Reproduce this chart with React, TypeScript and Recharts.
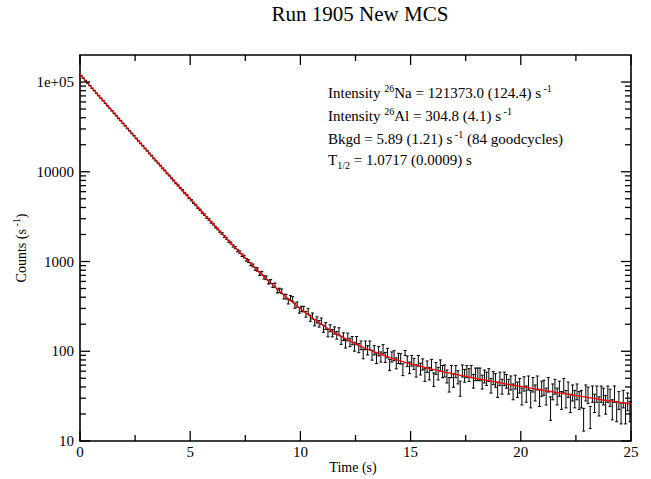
import React from "react";
import { ComposedChart, Scatter, Line, XAxis, YAxis, ErrorBar, ReferenceArea } from "recharts";

// ---- data ----
const times = [
  0.05, 0.15, 0.25, 0.35, 0.45, 0.55, 0.65, 0.75, 0.85, 0.95,
  1.05, 1.15, 1.25, 1.35, 1.45, 1.55, 1.65, 1.75, 1.85, 1.95,
  2.05, 2.15, 2.25, 2.35, 2.45, 2.55, 2.65, 2.75, 2.85, 2.95,
  3.05, 3.15, 3.25, 3.35, 3.45, 3.55, 3.65, 3.75, 3.85, 3.95,
  4.05, 4.15, 4.25, 4.35, 4.45, 4.55, 4.65, 4.75, 4.85, 4.95,
  5.05, 5.15, 5.25, 5.35, 5.45, 5.55, 5.65, 5.75, 5.85, 5.95,
  6.05, 6.15, 6.25, 6.35, 6.45, 6.55, 6.65, 6.75, 6.85, 6.95,
  7.05, 7.15, 7.25, 7.35, 7.45, 7.55, 7.65, 7.75, 7.85, 7.95,
  8.05, 8.15, 8.25, 8.35, 8.45, 8.55, 8.65, 8.75, 8.85, 8.95,
  9.05, 9.15, 9.25, 9.35, 9.45, 9.55, 9.65, 9.75, 9.85, 9.95,
  10.05, 10.15, 10.25, 10.35, 10.45, 10.55, 10.65, 10.75, 10.85, 10.95,
  11.05, 11.15, 11.25, 11.35, 11.45, 11.55, 11.65, 11.75, 11.85, 11.95,
  12.05, 12.15, 12.25, 12.35, 12.45, 12.55, 12.65, 12.75, 12.85, 12.95,
  13.05, 13.15, 13.25, 13.35, 13.45, 13.55, 13.65, 13.75, 13.85, 13.95,
  14.05, 14.15, 14.25, 14.35, 14.45, 14.55, 14.65, 14.75, 14.85, 14.95,
  15.05, 15.15, 15.25, 15.35, 15.45, 15.55, 15.65, 15.75, 15.85, 15.95,
  16.05, 16.15, 16.25, 16.35, 16.45, 16.55, 16.65, 16.75, 16.85, 16.95,
  17.05, 17.15, 17.25, 17.35, 17.45, 17.55, 17.65, 17.75, 17.85, 17.95,
  18.05, 18.15, 18.25, 18.35, 18.45, 18.55, 18.65, 18.75, 18.85, 18.95,
  19.05, 19.15, 19.25, 19.35, 19.45, 19.55, 19.65, 19.75, 19.85, 19.95,
  20.05, 20.15, 20.25, 20.35, 20.45, 20.55, 20.65, 20.75, 20.85, 20.95,
  21.05, 21.15, 21.25, 21.35, 21.45, 21.55, 21.65, 21.75, 21.85, 21.95,
  22.05, 22.15, 22.25, 22.35, 22.45, 22.55, 22.65, 22.75, 22.85, 22.95,
  23.05, 23.15, 23.25, 23.35, 23.45, 23.55, 23.65, 23.75, 23.85, 23.95,
  24.05, 24.15, 24.25, 24.35, 24.45, 24.55, 24.65, 24.75, 24.85, 24.95,
];

const counts = [
  117900, 110300, 103700, 96900, 91100, 85200, 80100, 74900, 70400, 65800,
  61900, 57900, 54400, 50900, 47800, 44700, 42100, 39300, 37000, 34600,
  32500, 30400, 28600, 26750, 25200, 23520, 22150, 20700, 19480, 18200,
  17130, 16000, 15090, 14080, 13280, 12400, 11700, 10920, 10310, 9600,
  9080, 8460, 7990, 7440, 7050, 6570, 6220, 5790, 5490, 5100,
  4830, 4500, 4270, 3960, 3770, 3500, 3330, 3090, 2950, 2730,
  2610, 2420, 2310, 2140, 2045, 1895, 1815, 1680, 1610, 1490,
  1430, 1320, 1275, 1175, 1135, 1045, 1012, 932, 905, 830,
  814, 731, 744, 668, 658, 591, 599, 541, 548, 471,
  478, 468, 407, 407, 359, 393, 382, 323, 332, 286,
  296, 296, 259, 280, 234, 248, 209, 224, 203, 217,
  179, 192, 160, 181, 160, 171, 151, 167, 133, 146,
  122, 145, 126, 132, 113, 132, 109, 117, 94, 117,
  103, 117, 91, 103, 84, 101, 87, 106, 86, 96,
  71, 87, 90, 74, 84, 83, 63, 96, 78, 66,
  79, 73, 61, 79, 64, 72, 55, 68, 57, 71,
  49, 65, 57, 70, 60, 61, 53, 43, 60, 48,
  60, 52, 39, 61, 54, 60, 55, 60, 47, 56,
  56, 56, 46, 53, 50, 55, 42, 51, 48, 38,
  50, 41, 50, 47, 41, 45, 36, 46, 38, 42,
  32, 44, 34, 45, 30, 43, 35, 45, 31, 39,
  40, 32, 43, 24, 36, 41, 32, 39, 29, 42,
  30, 38, 27, 35, 30, 36, 29, 30, 18, 35,
  33, 19, 34, 27, 34, 25, 34, 32, 26, 34,
  31, 23, 34, 22, 29, 21, 30, 21, 28, 22,
];

const errors = [
  378, 365, 354, 342, 332, 321, 311, 301, 292, 282,
  274, 265, 257, 248, 240, 233, 226, 218, 212, 205,
  198, 192, 186, 180, 175, 169, 164, 158, 154, 148,
  144, 139, 135, 131, 127, 122, 119, 115, 112, 108,
  105, 101, 98, 95, 92, 89, 87, 84, 82, 79,
  76, 74, 72, 69, 68, 65, 63, 61, 60, 57,
  56, 54, 53, 51, 50, 48, 47, 45, 44, 42,
  42, 40, 39, 38, 37, 36, 35, 34, 33, 32,
  34.2, 32.4, 32.7, 31.0, 30.8, 29.2, 29.4, 27.9, 28.1, 26.0,
  26.2, 26.0, 24.2, 24.2, 22.7, 23.8, 23.5, 21.6, 21.9, 20.3,
  20.6, 20.6, 19.3, 20.1, 18.4, 18.9, 17.3, 18.0, 17.1, 17.7,
  16.1, 16.6, 15.2, 16.1, 15.2, 15.7, 14.7, 15.5, 13.8, 14.5,
  13.3, 14.4, 13.5, 13.8, 12.8, 13.8, 12.5, 13.0, 11.6, 13.0,
  12.2, 13.0, 11.4, 12.2, 11.0, 12.1, 11.2, 12.4, 11.1, 11.8,
  10.1, 11.2, 11.4, 10.3, 11.0, 10.9, 9.5, 6.0, 10.6, 9.7,
  10.7, 10.3, 9.4, 10.7, 9.6, 10.2, 8.9, 9.9, 9.1, 10.1,
  8.4, 9.7, 9.1, 10.0, 9.3, 9.4, 8.7, 7.9, 9.3, 8.3,
  9.3, 8.7, 7.5, 9.4, 8.8, 9.3, 8.9, 9.3, 8.2, 9.0,
  9.0, 9.0, 8.1, 8.7, 8.5, 8.9, 7.8, 8.6, 8.3, 7.4,
  8.5, 7.7, 8.5, 8.2, 7.7, 8.0, 7.2, 8.1, 7.4, 7.8,
  6.8, 8.0, 7.0, 8.0, 6.6, 7.9, 7.1, 8.0, 6.7, 7.5,
  7.6, 6.8, 7.9, 7.0, 7.2, 7.7, 6.8, 7.5, 6.5, 7.8,
  6.6, 7.4, 6.2, 7.1, 6.6, 7.2, 6.5, 6.6, 5.1, 7.1,
  6.9, 5.2, 7.0, 6.2, 7.0, 6.0, 7.0, 6.8, 6.1, 7.0,
  6.7, 5.8, 7.0, 5.6, 6.5, 5.5, 6.6, 5.5, 6.3, 5.6,
];

const fitTimes = [
  0, 0.5, 1, 1.5, 2, 2.5, 3, 3.5, 4, 4.5, 5, 5.5, 6, 6.5, 7, 7.5, 8, 8.5, 9, 9.5,
  10, 10.5, 11, 11.5, 12, 12.5, 13, 13.5, 14, 14.5, 15, 15.5, 16, 16.5, 17, 17.5,
  18, 18.5, 19, 19.5, 20, 20.5, 21, 21.5, 22, 22.5, 23, 23.5, 24, 24.5, 25,
];
const fitValues = [
  121684, 88135, 63850, 46273, 33548, 24336, 17666, 12836, 9337, 6803, 4967, 3636,
  2670, 1969, 1460, 1090, 820.6, 623.8, 480.0, 374.5, 296.7, 239.2, 196.3, 164.2,
  139.8, 121.1, 106.6, 95.2, 86.1, 78.7, 72.5, 67.3, 62.8, 58.9, 55.5, 52.4, 49.6,
  47.1, 44.7, 42.5, 40.5, 38.5, 36.7, 35.1, 33.5, 32.0, 30.7, 29.3, 28.0, 26.9, 25.7,
];

const xTicks = [0, 2.5, 5, 7.5, 10, 12.5, 15, 17.5, 20, 22.5, 25];
const xMajor = [0, 5, 10, 15, 20, 25];
const xLabels = ["0", "5", "10", "15", "20", "25"];
const yTicks = [
  10, 20, 30, 40, 50, 60, 70, 80, 90,
  100, 200, 300, 400, 500, 600, 700, 800, 900,
  1000, 2000, 3000, 4000, 5000, 6000, 7000, 8000, 9000,
  10000, 20000, 30000, 40000, 50000, 60000, 70000, 80000, 90000,
  100000,
];
const yMajor = [10, 100, 1000, 10000, 100000];
const yLabels = ["10", "100", "1000", "10000", "1e+05"];

const points = times.map((t, i) => ({ t, v: counts[i], e: errors[i] }));
const fit = fitTimes.map((t, i) => ({ t, f: fitValues[i] }));

// ---- layout ----
const W = 651;
const H = 479;
const PLOT_LEFT = 80;
const PLOT_RIGHT = 631;
const PLOT_TOP = 55;
const PLOT_BOTTOM = 441;
const FONT = "'Liberation Serif', 'Times New Roman', serif";

const XTick = (props: any) => {
  const { x, payload } = props;
  const v = payload.value;
  const mi = xMajor.indexOf(v);
  const len = mi >= 0 ? 10 : 6;
  return (
    <g>
      <line x1={x} x2={x} y1={PLOT_BOTTOM} y2={PLOT_BOTTOM - len} stroke="#000" strokeWidth={1.3} />
      <line x1={x} x2={x} y1={PLOT_TOP} y2={PLOT_TOP + len} stroke="#000" strokeWidth={1.3} />
      {mi >= 0 && (
        <text x={x} y={PLOT_BOTTOM + 16} textAnchor="middle" fontSize={15} fontFamily={FONT} fill="#000">
          {xLabels[mi]}
        </text>
      )}
    </g>
  );
};

const YTick = (props: any) => {
  const { y, payload } = props;
  const v = payload.value;
  const mi = yMajor.indexOf(v);
  const len = mi >= 0 ? 10 : 6;
  return (
    <g>
      <line x1={PLOT_LEFT} x2={PLOT_LEFT + len} y1={y} y2={y} stroke="#000" strokeWidth={1.3} />
      <line x1={PLOT_RIGHT} x2={PLOT_RIGHT - len} y1={y} y2={y} stroke="#000" strokeWidth={1.3} />
      {mi >= 0 && (
        <text x={PLOT_LEFT - 6} y={y + 5} textAnchor="end" fontSize={15} fontFamily={FONT} fill="#000">
          {yLabels[mi]}
        </text>
      )}
    </g>
  );
};

const NoDot = () => <g />;

export default function App() {
  return (
    <div style={{ position: "absolute", left: 0, top: 0, width: W, height: H, background: "#fff" }}>
      <ComposedChart width={W} height={H} margin={{ top: PLOT_TOP, right: W - PLOT_RIGHT, left: 0, bottom: 0 }}>
        <XAxis
          type="number"
          dataKey="t"
          domain={[0, 25]}
          ticks={xTicks}
          interval={0}
          height={H - PLOT_BOTTOM}
          tickSize={0}
          tickMargin={0}
          tickLine={false}
          axisLine={false}
          tick={XTick}
          allowDataOverflow
        />
        <YAxis
          type="number"
          scale="log"
          domain={[10, 200000]}
          ticks={yTicks}
          interval={0}
          width={PLOT_LEFT}
          tickSize={0}
          tickMargin={0}
          tickLine={false}
          axisLine={false}
          tick={YTick}
          allowDataOverflow
        />
        <ReferenceArea
          x1={0}
          x2={25}
          y1={10}
          y2={200000}
          fill="none"
          fillOpacity={0}
          stroke="#000"
          strokeWidth={1.6}
          ifOverflow="visible"
        />
        <Scatter data={points} dataKey="v" shape={NoDot} isAnimationActive={false}>
          <ErrorBar dataKey="e" direction="y" width={1.5} stroke="#000" strokeWidth={1} isAnimationActive={false} />
        </Scatter>
        <Line
          data={fit}
          dataKey="f"
          type="monotone"
          stroke="#ff0000"
          strokeWidth={1.3}
          dot={false}
          activeDot={false}
          isAnimationActive={false}
        />
      </ComposedChart>
      <svg
        width={W}
        height={H}
        style={{ position: "absolute", left: 0, top: 0, pointerEvents: "none" }}
        fontFamily={FONT}
      >
        <text x={360} y={21} textAnchor="middle" fontSize={21} fill="#000">
          Run 1905 New MCS
        </text>
        <text x={353} y={472} textAnchor="middle" fontSize={14} fill="#000">
          Time (s)
        </text>
        <text transform={`translate(26, ${(PLOT_TOP + PLOT_BOTTOM) / 2}) rotate(-90)`} textAnchor="middle" fontSize={14} fill="#000">
          Counts (s<tspan fontSize={10} dy={-6}> -1</tspan>
          <tspan dy={6}>)</tspan>
        </text>
        <g fontSize={15} fill="#000">
          <text x={328} y={98}>
            Intensity <tspan fontSize={10} dy={-6}>26</tspan>
            <tspan dy={6}>Na = 121373.0 (124.4) s</tspan>
            <tspan fontSize={10} dy={-6}> -1</tspan>
          </text>
          <text x={328} y={121}>
            Intensity <tspan fontSize={10} dy={-6}>26</tspan>
            <tspan dy={6}>Al = 304.8 (4.1) s</tspan>
            <tspan fontSize={10} dy={-6}> -1</tspan>
          </text>
          <text x={328} y={144}>
            Bkgd = 5.89 (1.21) s<tspan fontSize={10} dy={-6}> -1</tspan>
            <tspan dy={6}> (84 goodcycles)</tspan>
          </text>
          <text x={328} y={165}>
            T<tspan fontSize={10} dy={4}>1/2</tspan>
            <tspan dy={-4}> = 1.0717 (0.0009) s</tspan>
          </text>
        </g>
      </svg>
    </div>
  );
}
